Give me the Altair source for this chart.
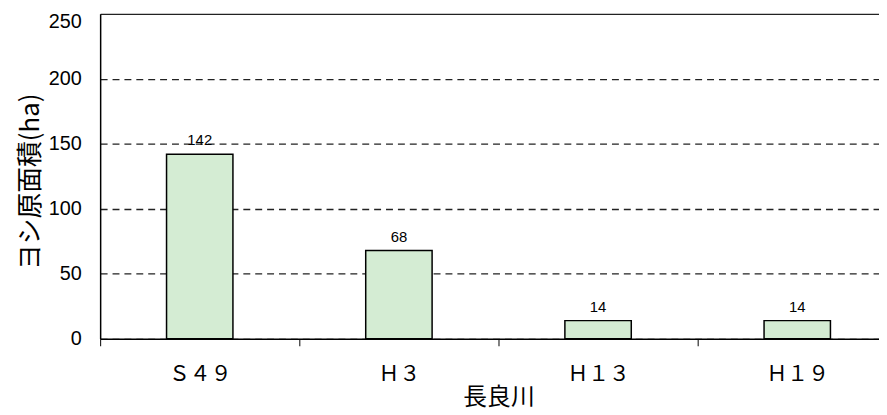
import altair as alt
import pandas as pd

categories = ["Ｓ４９", "Ｈ３", "Ｈ１３", "Ｈ１９"]
areas = [142, 68, 14, 14]
labels = ["142", "68", "14", "14"]
y_ticks = [0, 50, 100, 150, 200, 250]

df = pd.DataFrame({"year": categories, "area": areas, "label": labels})

x = alt.X(
    "year:N", sort=categories, title="長良川",
    scale=alt.Scale(range=[0, 804], paddingInner=0, paddingOuter=0),
    axis=alt.Axis(
        labelAngle=0, tickBand="extent", tickSize=7, tickColor="black", tickWidth=1,
        domainColor="black", domainWidth=1.5,
        labelFont="Noto Sans CJK JP", labelFontSize=21, labelColor="black", labelPadding=18,
        titleFont="Noto Sans CJK JP", titleFontSize=24, titleFontWeight="normal",
        titleColor="black", titleY=59, titleBaseline="middle",
    ),
)

y = alt.Y(
    "area:Q", title="ヨシ原面積(ha)",
    scale=alt.Scale(domain=[0, 250]),
    axis=alt.Axis(
        values=y_ticks, ticks=False, labelPadding=19,
        labelFont="Liberation Sans", labelFontSize=20, labelColor="black",
        labelOffset={"condition": {"test": "datum.value == 250", "value": 8}, "value": 0},
        domainColor="black", domainWidth=1.5,
        grid=True, gridColor="#222222", gridWidth=1.3,
        gridDash={"condition": {"test": "datum.value == 250", "value": []}, "value": [7, 5]},
        titleFont="Noto Sans CJK JP", titleFontSize=26, titleFontWeight="normal",
        titleColor="black", titleX=-70, titleY=169, titleAngle=-90,
        titleAlign="center", titleBaseline="middle",
    ),
)

bars = alt.Chart(df).mark_bar(
    width=alt.RelativeBandSize(1 / 3), color="#d4ecd3", stroke="black", strokeWidth=1.5
).encode(x=x, y=y)

text = alt.Chart(df).mark_text(
    dy=-6, baseline="bottom", font="Liberation Sans", fontSize=15, color="black"
).encode(x=x, y=y, text="label:N")

chart = alt.layer(bars, text).properties(
    width=786, height=328,
    autosize=alt.AutoSizeParams(type="none"),
    padding={"left": 93, "top": 4, "right": 0, "bottom": 75},
    background="white",
).configure_view(stroke=None)

chart.save("out.html", embed_options={"renderer": "svg", "actions": False})
